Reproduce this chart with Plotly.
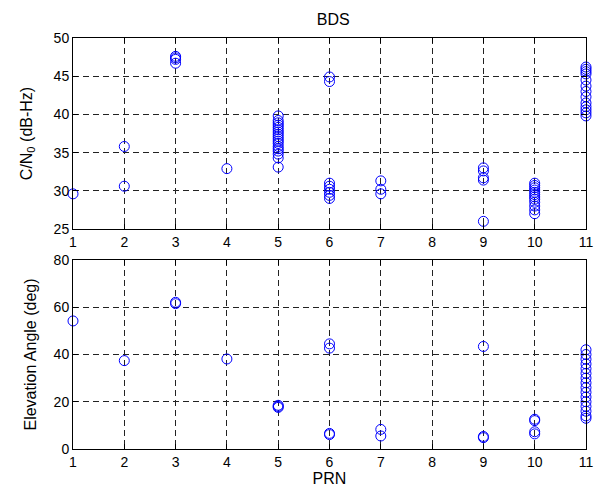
import plotly.graph_objects as go
from plotly.subplots import make_subplots

# C/N0 observations (top panel)
cn0_prn = ([1] + [2, 2] + [3, 3, 3, 3] + [4]
           + [5] * 18 + [6] * 8 + [7] * 3 + [9] * 5 + [10] * 12 + [11] * 13)
cn0_val = ([29.6]
           + [35.8, 30.6]
           + [47.6, 47.4, 47.2, 46.7]
           + [32.9]
           + [39.8, 39.2, 38.9, 38.6, 38.3, 38.0, 37.7, 37.4, 37.1, 36.8, 36.5, 36.2,
              35.8, 35.5, 35.2, 34.8, 34.3, 33.1]
           + [44.9, 44.3, 31.0, 30.6, 30.2, 29.8, 29.4, 29.0]
           + [31.3, 30.2, 29.6]
           + [33.0, 32.6, 31.7, 31.4, 26.0]
           + [31.0, 30.7, 30.4, 30.1, 29.8, 29.5, 29.2, 28.9, 28.5, 28.0, 27.5, 27.0]
           + [46.2, 45.9, 45.6, 45.3, 44.5, 43.7, 43.0, 42.3, 41.5, 41.0, 40.6, 40.2, 39.8])

# Elevation observations (bottom panel)
elev_prn = ([1] + [2] + [3, 3] + [4] + [5, 5, 5] + [6, 6, 6, 6] + [7, 7]
            + [9, 9, 9] + [10, 10, 10, 10] + [11] * 16)
elev_val = ([54.2]
            + [37.4]
            + [62.1, 61.5]
            + [38.1]
            + [18.5, 18.0, 17.6]
            + [44.5, 42.7, 6.6, 6.1]
            + [8.3, 5.5]
            + [43.4, 5.3, 4.8]
            + [12.6, 12.0, 7.3, 6.4]
            + [42, 40, 38, 36, 34, 32, 30, 28, 26, 24, 22, 20, 18, 16, 14, 13])

x_ticks = list(range(1, 12))
cn0_ticks = [25, 30, 35, 40, 45, 50]
elev_ticks = [0, 20, 40, 60, 80]

FONT = "Liberation Sans, Arial, sans-serif"
BLUE = "#0000FF"

fig = make_subplots(rows=2, cols=1, vertical_spacing=0.0)

marker = dict(symbol="circle-open", size=10, color=BLUE, line=dict(width=1, color=BLUE))
fig.add_trace(go.Scatter(x=cn0_prn, y=cn0_val, mode="markers", marker=marker,
                         cliponaxis=False, showlegend=False), row=1, col=1)
fig.add_trace(go.Scatter(x=elev_prn, y=elev_val, mode="markers", marker=marker,
                         cliponaxis=False, showlegend=False), row=2, col=1)

axis_common = dict(
    showline=True, linecolor="black", linewidth=1, mirror="ticks",
    ticks="inside", ticklen=5, tickcolor="black",
    showgrid=True, gridcolor="#222222", gridwidth=1, griddash="6px,4px",
    zeroline=False,
    tickfont=dict(family=FONT, size=14, color="black"),
)

fig.update_xaxes(axis_common)
fig.update_yaxes(axis_common)

fig.update_layout(
    xaxis=dict(range=[1, 11], tickvals=x_ticks, domain=[0, 1], anchor="y"),
    yaxis=dict(range=[25, 50], tickvals=cn0_ticks, domain=[0.5353, 1.0],
               title=dict(text="C/N<sub>0</sub> (dB-Hz)", standoff=17,
                          font=dict(family=FONT, size=16, color="black"))),
    xaxis2=dict(range=[1, 11], tickvals=x_ticks, domain=[0, 1], anchor="y2",
                title=dict(text="PRN", standoff=0,
                           font=dict(family=FONT, size=16, color="black"))),
    yaxis2=dict(range=[0, 80], tickvals=elev_ticks, domain=[0.0, 0.4599],
                title=dict(text="Elevation Angle (deg)", standoff=13,
                           font=dict(family=FONT, size=16, color="black"))),
    title=dict(text="BDS", x=0.5535, xanchor="center", y=0.96, yanchor="middle",
               font=dict(family=FONT, size=16, color="black")),
    width=602, height=495,
    margin=dict(l=73, r=9, t=38, b=46),
    paper_bgcolor="white", plot_bgcolor="white",
)

fig.write_html("out.html")
